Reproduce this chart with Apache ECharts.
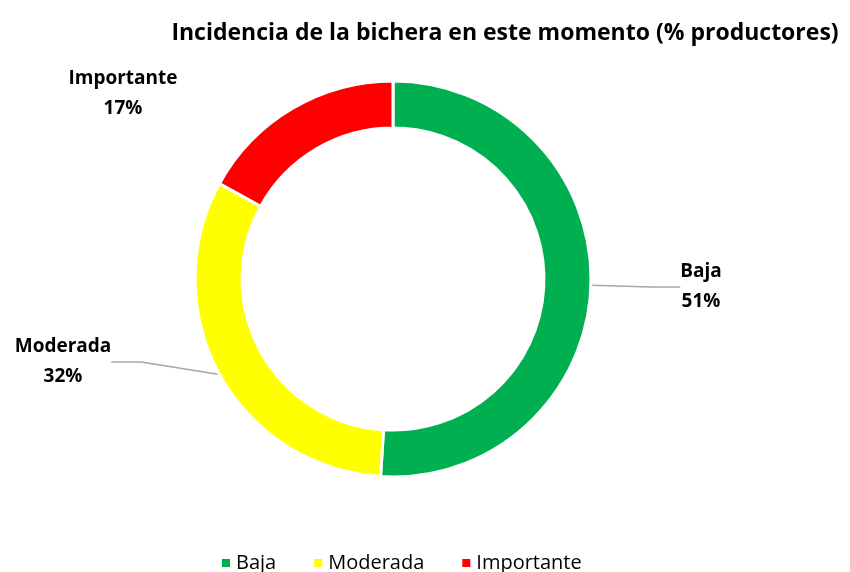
<!DOCTYPE html>
<html>
<head>
	<meta charset="utf-8">
	<title>bichera</title>
	<script src="https://cdn.jsdelivr.net/npm/echarts@6/dist/echarts.min.js"></script>
	<style>body{margin:0;background:#fff;}</style>
</head>
<body>
	<div id="main" style="height: 572px; width: 850px;"></div>
	<script type="text/javascript">
		var categories = ['Baja', 'Moderada', 'Importante'];
		var values = [51, 32, 17];
		var colors = ['#00B050', '#FFFF00', '#FF0000'];
		// where each label sits (centre of text block)
		var labelPos = [[701, 287], [63, 362], [123, 94]];

		var myChart = echarts.init(document.getElementById('main'));
		var font = '"Open Sans", "Noto Sans", sans-serif';
		var option = {
			title: {
				text: 'Incidencia de la bichera en este momento (% productores)',
				left: 500,
				textAlign: 'center',
				top: 17,
				textStyle: {fontFamily: font, fontSize: 23, fontWeight: 'bold', color: '#000'}
			},
			legend: {
				top: 548,
				left: 215,
				itemWidth: 10,
				itemHeight: 10,
				itemGap: 36,
				icon: 'rect',
				textStyle: {fontFamily: font, fontSize: 20, color: '#000'},
				data: categories
			},
			series: [{
				type: 'pie',
				radius: [151, 198],
				center: [393, 279],
				startAngle: 90,
				clockwise: true,
				avoidLabelOverlap: false,
				itemStyle: {borderColor: '#fff', borderWidth: 3},
				label: {
					formatter: '{b}\n{d}%',
					fontFamily: font,
					fontSize: 19,
					fontWeight: 'bold',
					color: '#000',
					lineHeight: 30,
					align: 'center'
				},
				labelLine: {show: true, lineStyle: {color: '#a6a6a6', width: 1.5}},
				labelLayout: function (params) {
					var p = labelPos[params.dataIndex];
					return {x: p[0], y: p[1], align: 'center', verticalAlign: 'middle'};
				},
				data: categories.map(function (c, i) {
					var d = {name: c, value: values[i], itemStyle: {color: colors[i]}};
					if (i === 2) d.labelLine = {show: false};
					return d;
				})
			}]
		};
		myChart.setOption(option);
	</script>
</body>
</html>
